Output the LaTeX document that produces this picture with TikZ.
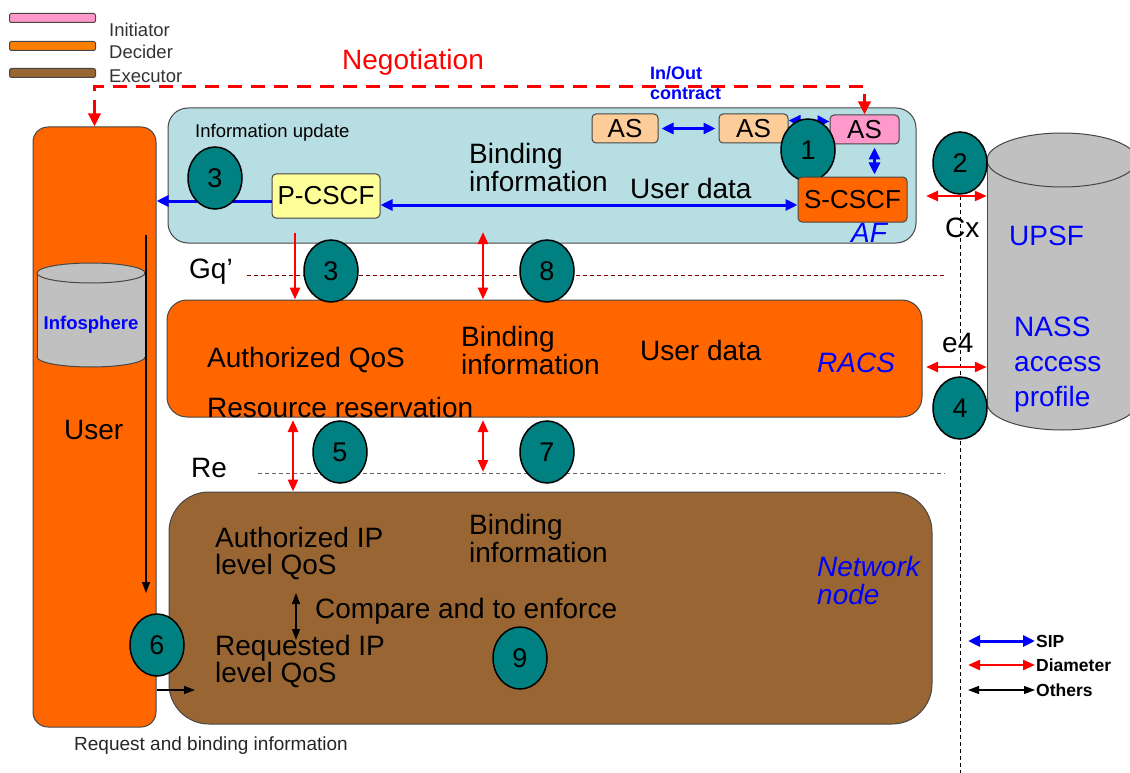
\documentclass[tikz,border=0pt]{standalone}
\usepackage{fontspec}
\setmainfont{Liberation Sans}
\usepackage{tikz}
\usepackage{xcolor}
\usetikzlibrary{arrows.meta,positioning,shapes.geometric}

\definecolor{hotorange}{RGB}{255,102,0}
\definecolor{afblue}{RGB}{183,222,227}
\definecolor{netbrown}{RGB}{153,102,51}
\definecolor{tealnum}{RGB}{0,128,128}
\definecolor{cylgray}{RGB}{192,192,192}
\definecolor{peach}{RGB}{252,204,153}
\definecolor{pinkas}{RGB}{255,153,204}
\definecolor{paleyellow}{RGB}{255,255,153}
\definecolor{darkred}{RGB}{128,0,0}
\definecolor{edgegray}{RGB}{70,70,70}

\begin{document}
\begin{tikzpicture}[
    x=1pt, y=-1pt,
    plane/.style={
        rectangle,
        draw=edgegray,
        line width=1pt,
        inner sep=0pt
    },
    smallbox/.style={
        rectangle,
        rounded corners=4pt,
        draw=edgegray,
        line width=1pt,
        inner sep=0pt,
        font=\fontsize{26}{26}\selectfont
    },
    numcircle/.style={
        ellipse,
        draw=black,
        line width=1.5pt,
        fill=tealnum,
        minimum width=54pt,
        minimum height=62pt,
        inner sep=0pt,
        font=\fontsize{27}{27}\selectfont
    },
    bigtext/.style={anchor=west, inner sep=0pt, align=left, font=\fontsize{28}{28}\selectfont},
    planelabel/.style={anchor=west, inner sep=0pt, align=left, text=blue, font=\fontsize{28}{28}\selectfont\itshape},
    smalltext/.style={anchor=west, inner sep=0pt, font=\fontsize{18.5}{20}\selectfont},
    legbar/.style={rectangle, rounded corners=2pt, draw=edgegray, line width=1pt, minimum width=86pt, minimum height=9pt, inner sep=0pt},
    sip/.style={blue, line width=3pt, >={Triangle[length=12pt,width=11pt]}, <->},
    diameter/.style={red, line width=2.5pt, >={Triangle[length=12pt,width=10pt]}},
    others/.style={black, line width=1.3pt, >={Triangle[length=11pt,width=8pt]}},
    refline/.style={line width=1pt, dash pattern=on 4pt off 3pt}
]
\useasboundingbox (0,0) rectangle (1130,773);

% legend, top left
\node (barInit) [legbar, fill=pinkas] at (52.5,18) {};
\node (barDec) [legbar, fill=orange] at (52.5,46) {};
\node (barExe) [legbar, fill=netbrown] at (52.5,73) {};
\node (txtInit) [smalltext, text=black!80] at (109,30) {Initiator};
\node (txtDec) [smalltext, text=black!80] at (109,52) {Decider};
\node (txtExe) [smalltext, text=black!80] at (109,76) {Executor};

% planes
\node (user) [plane, rounded corners=15pt, fill=hotorange, minimum width=123pt, minimum height=600pt] at (94.5,427) {};
\node (af) [plane, rounded corners=20pt, fill=afblue, minimum width=748pt, minimum height=135pt] at (542,175.5) {};
\node (racs) [plane, rounded corners=20pt, fill=hotorange, minimum width=755pt, minimum height=117pt] at (544.5,358.5) {};
\node (net) [plane, rounded corners=40pt, fill=netbrown, minimum width=763pt, minimum height=232pt] at (550.5,608) {};

% UPSF cylinder
\fill [cylgray, draw=edgegray, line width=1pt] (1062,403) ellipse [x radius=75, y radius=27];
\fill [cylgray] (987,160) rectangle (1137,403);
\draw [edgegray, line width=1pt] (987,160) -- (987,403) (1137,160) -- (1137,403);
\filldraw [fill=cylgray, draw=edgegray, line width=1pt] (1062,160) ellipse [x radius=75, y radius=27];
\node (upsf) [inner sep=0pt, minimum width=150pt, minimum height=243pt] at (1062,281.5) {};

% Infosphere cylinder
\fill [cylgray, draw=edgegray, line width=1pt] (91,357) ellipse [x radius=54, y radius=10];
\fill [cylgray] (37,273) rectangle (145,357);
\draw [edgegray, line width=1pt] (37,273) -- (37,357) (145,273) -- (145,357);
\filldraw [fill=cylgray, draw=edgegray, line width=1pt] (91,273) ellipse [x radius=54, y radius=10];
\node (infosphere) [inner sep=0pt, text=blue, font=\fontsize{18.5}{20}\selectfont\bfseries] at (91,325) {Infosphere};

% functional entities
\node (as1) [smallbox, fill=peach, minimum width=66pt, minimum height=29pt] at (625,128.5) {AS};
\node (as2) [smallbox, fill=peach, minimum width=69pt, minimum height=29pt] at (753.5,128.5) {AS};
\node (as3) [smallbox, fill=pinkas, minimum width=69pt, minimum height=29pt] at (864.5,129.5) {AS};
\node (pcscf) [smallbox, fill=paleyellow, minimum width=108pt, minimum height=44pt] at (326,196) {P-CSCF};

% texts
\node (negotiation) [bigtext, text=red] at (342,62) {Negotiation};
\node (inout) [anchor=west, inner sep=0pt, align=left, text=blue, font=\fontsize{18}{20}\selectfont\bfseries] at (650,83) {In/Out\\contract};
\node (infoupd) [smalltext] at (195,133) {Information update};
\node (afbind) [bigtext] at (469,167) {Binding\\information};
\node (afuser) [bigtext] at (630,188) {User data};
\node (aflabel) [planelabel] at (851,233) {AF};
\node (gq) [bigtext] at (189,272) {Gq’};
\node (re) [bigtext] at (191,468) {Re};
\node (cx) [bigtext] at (945,228) {Cx};
\node (efour) [bigtext] at (942,343) {e4};
\node (upsftxt) [bigtext, text=blue] at (1009,236) {UPSF};
\node (nass) [anchor=west, inner sep=0pt, align=left, text=blue, font=\fontsize{28}{35}\selectfont] at (1014,365) {NASS\\access\\profile};
\node (racsqos) [bigtext] at (207,360) {Authorized QoS};
\node (racsbind) [bigtext] at (461,350) {Binding\\information};
\node (racsuser) [bigtext] at (640,350) {User data};
\node (racslabel) [planelabel] at (817,363) {RACS};
\node (resres) [bigtext] at (207,407) {Resource reservation};
\node (usertxt) [bigtext] at (64,430) {User};
\node (authip) [anchor=west, inner sep=0pt, align=left, font=\fontsize{28}{27}\selectfont] at (215,553) {Authorized IP\\level QoS};
\node (netbind) [bigtext] at (469,538) {Binding\\information};
\node (compare) [bigtext] at (315,611) {Compare and to enforce};
\node (reqip) [anchor=west, inner sep=0pt, align=left, font=\fontsize{28}{27}\selectfont] at (215,661) {Requested IP\\level QoS};
\node (netlabel) [planelabel] at (817,580) {Network\\node};
\node (reqbind) [anchor=west, inner sep=0pt, text=black!85, font=\fontsize{19}{21}\selectfont] at (74,746) {Request and binding information};

% reference points
\coordinate (gqS) at (247,275);
\coordinate (gqE) at (945,275);
\coordinate (reS) at (258,473);
\coordinate (reE) at (945,473);
\coordinate (refT) at (960,196);
\coordinate (refB) at (960,773);
\coordinate (afBind) at (483,232);
\coordinate (reLeft) at (293,420);
\coordinate (reMid) at (483,420);
\coordinate (reMidEnd) at (483,472);
\coordinate (cxL) at (926,196);
\coordinate (efourL) at (926,367);
\coordinate (userLineT) at (146,235);
\coordinate (userLineB) at (146,593);
\coordinate (cmpT) at (296,593);
\coordinate (cmpB) at (296,640);
\coordinate (reqArrow) at (195,690);

% dashed reference lines
\draw [refline, darkred] (gqS) -- (gqE);
\draw [refline, black!60] (reS) -- (reE);
\draw [refline, black] (refT) -- (refB);

% negotiation
\draw [red, line width=3.5pt, dash pattern=on 14pt off 9pt, >={Triangle[length=13pt,width=12pt]}, <->] (user.north) -- ++(0,-40) -| (as3.north);

% SIP connectors
\draw [sip, shorten >=3pt, shorten <=3pt] (as1.east) -- (as2.west);
\draw [sip] ([yshift=8pt]as2.east) -- ([yshift=8pt]as3.west);
\draw [sip, ->] ([yshift=-5pt]pcscf.west) -- ([yshift=-5pt]pcscf.west -| user.east);

% Diameter connectors
\draw [diameter, ->] ([xshift=-31pt,yshift=-14pt]pcscf.south) -- ([xshift=-31pt]pcscf.south |- racs.north);
\draw [diameter, <->] (afBind) -- (afBind |- racs.north);
\draw [diameter, <->] (reLeft) -- (reLeft |- net.north);
\draw [diameter, <->] (reMid) -- (reMidEnd);
\draw [diameter, <->] (cxL) -- (cxL -| upsf.west);
\draw [diameter, <->] (efourL) -- (efourL -| upsf.west);

% other connectors
\draw [others, ->] (userLineT) -- (userLineB);
\draw [others, <->] (cmpT) -- (cmpB);
\draw [others, ->] (user.east |- reqArrow) -- (reqArrow);

% numbered steps
\node (n1) [numcircle] at (808,150) {1};
\node (scscf) [smallbox, fill=hotorange, minimum width=109pt, minimum height=45pt] at (852.5,199.5) {S-CSCF};
\draw [sip] ([xshift=10pt,yshift=-3pt]as3.south) -- ([xshift=10pt,yshift=2pt]as3.south |- scscf.north);
\draw [sip] ([yshift=-9pt]pcscf.east) -- ([yshift=-9pt]pcscf.east -| scscf.west);
\node (n2) [numcircle] at (960,163) {2};
\node (n3a) [numcircle] at (215,178) {3};
\node (n3b) [numcircle] at (331,271) {3};
\node (n8) [numcircle] at (547,271) {8};
\node (n5) [numcircle] at (340,452) {5};
\node (n7) [numcircle] at (547,452) {7};
\node (n4) [numcircle] at (960,408) {4};
\node (n6) [numcircle] at (157,645) {6};
\node (n9) [numcircle] at (520,658) {9};

% legend, bottom right
\node (lgSip) [anchor=west, inner sep=1pt, font=\fontsize{17.5}{19}\selectfont\bfseries] at (1035,641) {SIP};
\node (lgDia) [anchor=west, inner sep=1pt, font=\fontsize{17.5}{19}\selectfont\bfseries] at (1035,665) {Diameter};
\node (lgOth) [anchor=west, inner sep=1pt, font=\fontsize{17.5}{19}\selectfont\bfseries] at (1035,690) {Others};
\draw [sip] ([xshift=-67pt]lgSip.west) -- (lgSip.west);
\draw [diameter, <->] ([xshift=-67pt]lgDia.west) -- (lgDia.west);
\draw [others, <->] ([xshift=-67pt]lgOth.west) -- (lgOth.west);
\end{tikzpicture}
\end{document}
